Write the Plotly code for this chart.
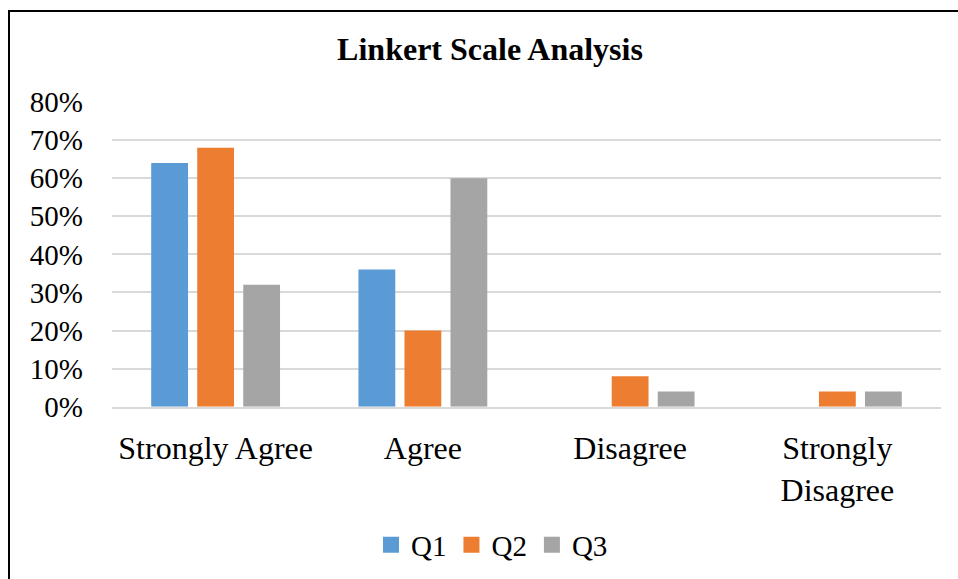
import plotly.graph_objects as go

categories = ["Strongly Agree", "Agree", "Disagree", "Strongly<br>Disagree"]
q1 = [64, 36, 0, 0]
q2 = [68, 20, 8, 4]
q3 = [32, 60, 4, 4]
series_names = ["Q1", "Q2", "Q3"]
colors = ["#5B9BD5", "#ED7D31", "#A5A5A5"]
y_ticks = [0, 10, 20, 30, 40, 50, 60, 70, 80]
y_tick_labels = ["0%", "10%", "20%", "30%", "40%", "50%", "60%", "70%", "80%"]

FONT = "Liberation Serif"

fig = go.Figure()
for name, vals, col in zip(series_names, [q1, q2, q3], colors):
    fig.add_trace(go.Bar(x=categories, y=vals, name=name, marker_color=col,
                         marker_line_width=0, showlegend=False))
# legend entries with larger square symbols
for name, col in zip(series_names, colors):
    fig.add_trace(go.Scatter(x=[None], y=[None], mode="markers", name=name,
                             marker=dict(symbol="square", size=16, color=col)))

W, H = 958, 579
L, R, T, B = 112, 17, 102, 169
pw, ph = W - L - R, H - T - B

def px_x(p):
    return (p - L) / pw

def px_y(p):
    return (H - B - p) / ph

fig.update_layout(
    width=W, height=H,
    margin=dict(l=L, r=R, t=T, b=B),
    paper_bgcolor="white", plot_bgcolor="white",
    font=dict(family=FONT, color="black"),
    barmode="group", bargap=0.334, bargroupgap=0.2,
    title=dict(text="<b>Linkert Scale Analysis</b>", x=490 / W, xanchor="center",
               y=1 - 49 / H, yanchor="middle", yref="container",
               font=dict(size=32, family=FONT, color="black")),
    xaxis=dict(type="category", showgrid=False, showline=True, linecolor="#D9D9D9",
               linewidth=1.5, tickfont=dict(size=32, family=FONT, color="black"),
               ticks="", ticklabelstandoff=12),
    yaxis=dict(range=[0, 80], tickmode="array", tickvals=y_ticks, ticktext=y_tick_labels,
               showgrid=True, gridcolor="#D9D9D9", gridwidth=1.5, zeroline=False,
               showline=False, tickfont=dict(size=29, family=FONT, color="black"),
               ticks="", ticklabelstandoff=28),
    legend=dict(orientation="h", xref="container", yref="container",
                x=371 / W, xanchor="left", y=1 - 545 / H, yanchor="middle",
                font=dict(size=29, family=FONT, color="black"),
                itemwidth=30, tracegroupgap=0),
    shapes=[dict(type="path", xref="paper", yref="paper",
                 path=f"M {px_x(9)} {px_y(H + 5)} L {px_x(9)} {px_y(10)} L {px_x(W + 5)} {px_y(10)}",
                 line=dict(color="black", width=2))],
)

fig.write_html("out.html", config={"displayModeBar": False},
               post_script="document.body.style.margin='0';document.body.style.overflow='hidden';")
